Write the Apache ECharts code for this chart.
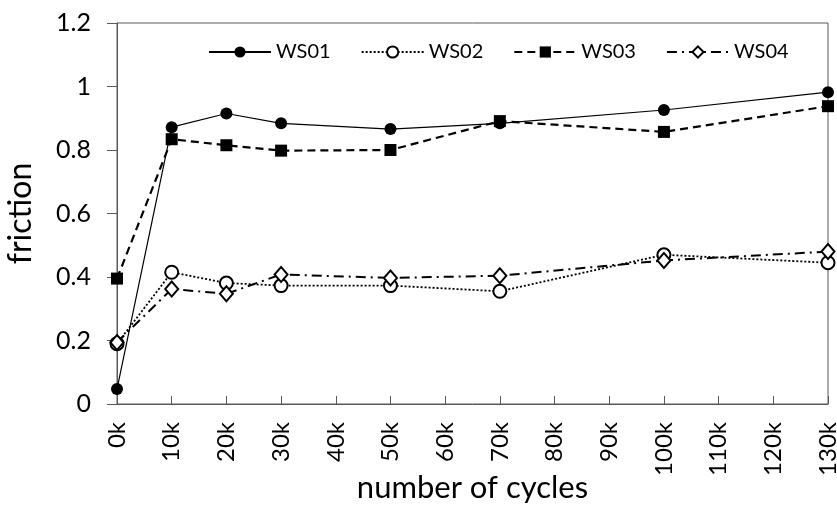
<!DOCTYPE html>
<html>
<head>
<meta charset="utf-8">
<script src="https://cdn.jsdelivr.net/npm/echarts@6/dist/echarts.min.js"></script>
<style>
html,body{margin:0;padding:0;background:#fff;}
#chart{width:837px;height:505px;}
</style>
</head>
<body>
<div id="chart"></div>
<script>
var cycles = [0, 10, 20, 30, 50, 70, 100, 130];
var ws01 = [0.047, 0.872, 0.915, 0.884, 0.866, 0.884, 0.926, 0.982];
var ws02 = [0.19, 0.415, 0.381, 0.373, 0.373, 0.355, 0.47, 0.445];
var ws03 = [0.395, 0.834, 0.815, 0.798, 0.80, 0.891, 0.857, 0.938];
var ws04 = [0.194, 0.362, 0.347, 0.408, 0.397, 0.404, 0.452, 0.48];
var seriesNames = ['WS01', 'WS02', 'WS03', 'WS04'];
var xTickStep = 10;

function pairs(vals){ return cycles.map(function(c,i){ return [c, vals[i]]; }); }

var FONT = 'Lato';
var chart = echarts.init(document.getElementById('chart'), null, {renderer:'canvas'});
chart.setOption({
  animation: false,
  backgroundColor: '#fff',
  textStyle: {fontFamily: FONT, color: '#000'},
  grid: {left: 117, right: 9, top: 23, bottom: 101, show: true, borderColor: '#595959', borderWidth: 1,
         containLabel: false, outerBoundsMode: 'none'},
  legend: {
    left: 203, top: 37, itemWidth: 62, itemHeight: 14, itemGap: 30,
    textStyle: {fontFamily: FONT, fontSize: 20, color: '#000'},
    data: seriesNames
  },
  xAxis: {
    type: 'value', min: 0, max: 130, interval: xTickStep,
    name: 'number of cycles', nameLocation: 'middle', nameGap: 68, nameMoveOverlap: false,
    nameTextStyle: {fontFamily: FONT, fontSize: 31, color: '#000'},
    axisLine: {show: true, lineStyle: {color: '#595959', width: 1}},
    axisTick: {show: true, inside: true, length: 8, lineStyle: {color: '#595959'}},
    axisLabel: {rotate: 90, margin: 18, fontSize: 24, color: '#000', fontFamily: FONT,
      formatter: function(v){ return v + 'k'; }},
    splitLine: {show: false}
  },
  yAxis: {
    type: 'value', min: 0, max: 1.2, interval: 0.2,
    name: 'friction', nameLocation: 'middle', nameGap: 80, nameMoveOverlap: false,
    nameTextStyle: {fontFamily: FONT, fontSize: 32, color: '#000'},
    axisLine: {show: true, lineStyle: {color: '#595959', width: 1}},
    axisTick: {show: true, inside: false, length: 10, lineStyle: {color: '#595959'}},
    axisLabel: {margin: 26, fontSize: 25, color: '#000', fontFamily: FONT,
      formatter: function(v){ return Math.round(v*10)/10 + ''; }},
    splitLine: {show: false}
  },
  series: [
    {name: 'WS01', type: 'line', data: pairs(ws01), symbol: 'circle', symbolSize: 12,
     lineStyle: {color: '#000', width: 1.2, type: 'solid'},
     itemStyle: {color: '#000'}},
    {name: 'WS02', type: 'line', data: pairs(ws02), symbol: 'circle', symbolSize: 13,
     lineStyle: {color: '#000', width: 1.8, type: [2, 2]},
     itemStyle: {color: '#fff', borderColor: '#000', borderWidth: 2}},
    {name: 'WS03', type: 'line', data: pairs(ws03), symbol: 'rect', symbolSize: 12,
     lineStyle: {color: '#000', width: 2.2, type: [8, 5]},
     itemStyle: {color: '#000'}},
    {name: 'WS04', type: 'line', data: pairs(ws04), symbol: 'diamond', symbolSize: [13, 15],
     lineStyle: {color: '#000', width: 2, type: [10, 5, 2, 5]},
     itemStyle: {color: '#fff', borderColor: '#000', borderWidth: 2}}
  ]
});
</script>
</body>
</html>
